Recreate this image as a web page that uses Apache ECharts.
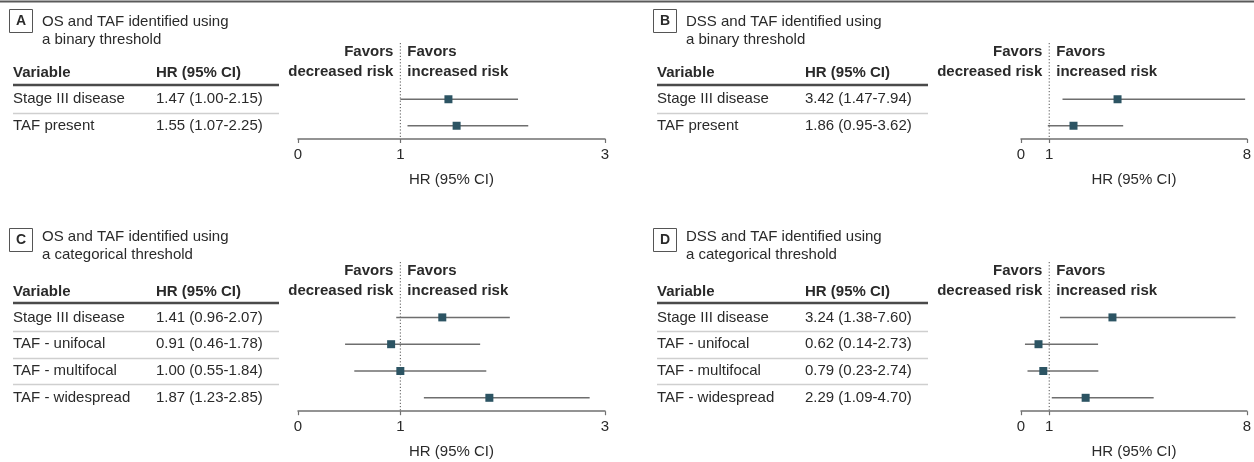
<!DOCTYPE html>
<html><head><meta charset="utf-8">
<script src="https://cdn.jsdelivr.net/npm/echarts@6/dist/echarts.min.js"></script>
<style>html,body{margin:0;padding:0;background:#fff}#c{width:1254px;height:462px}</style>
</head><body><div id="c"></div><script>
// ---- data ----
const panelLetters = ['A', 'B', 'C', 'D'];
const panelTitles = [
  ['OS and TAF identified using', 'a binary threshold'],
  ['DSS and TAF identified using', 'a binary threshold'],
  ['OS and TAF identified using', 'a categorical threshold'],
  ['DSS and TAF identified using', 'a categorical threshold']
];
const varsBinary = ['Stage III disease', 'TAF present'];
const varsCat = ['Stage III disease', 'TAF - unifocal', 'TAF - multifocal', 'TAF - widespread'];
const hrA = [1.47, 1.55], loA = [1.00, 1.07], hiA = [2.15, 2.25];
const hrB = [3.42, 1.86], loB = [1.47, 0.95], hiB = [7.94, 3.62];
const hrC = [1.41, 0.91, 1.00, 1.87], loC = [0.96, 0.46, 0.55, 1.23], hiC = [2.07, 1.78, 1.84, 2.85];
const hrD = [3.24, 0.62, 0.79, 2.29], loD = [1.38, 0.14, 0.23, 1.09], hiD = [7.60, 2.73, 2.74, 4.70];
const ticksOS = [0, 1, 3];
const ticksDSS = [0, 1, 8];
const axisMaxOS = 3, axisMaxDSS = 8;
const headerVar = 'Variable', headerHR = 'HR (95% CI)';
const favorsLeft = ['Favors', 'decreased risk'];
const favorsRight = ['Favors', 'increased risk'];
const axisTitle = 'HR (95% CI)';

// ---- layout ----
const FONT = "'Liberation Sans', Arial, sans-serif";
const TXT = '#2a2a2a';
const cols = [
  {box: 9, title: 42, x0: 13, hrX: 156, tRight: 279, gL: 298, gR: 605},
  {box: 653, title: 686, x0: 657, hrX: 805, tRight: 928, gL: 1021, gR: 1248}
];
const rowsY = [
  {boxY: 9, t1: 22, t2: 40, header: 73, gTop: 86, fav1: 52, fav2: 72, dotTop: 43},
  {boxY: 228, t1: 237, t2: 255, header: 292, gTop: 304, fav1: 271, fav2: 291, dotTop: 262}
];
const rowH = 26.8;

const panels = [
  {vars: varsBinary, hr: hrA, lo: loA, hi: hiA, ticks: ticksOS, max: axisMaxOS, c: 0, r: 0},
  {vars: varsBinary, hr: hrB, lo: loB, hi: hiB, ticks: ticksDSS, max: axisMaxDSS, c: 1, r: 0},
  {vars: varsCat, hr: hrC, lo: loC, hi: hiC, ticks: ticksOS, max: axisMaxOS, c: 0, r: 1},
  {vars: varsCat, hr: hrD, lo: loD, hi: hiD, ticks: ticksDSS, max: axisMaxDSS, c: 1, r: 1}
];

const fmt = v => v.toFixed(2);
const grids = [], xAxes = [], yAxes = [], series = [];
panels.forEach((p, i) => {
  const C = cols[p.c], R = rowsY[p.r];
  const n = p.vars.length;
  grids.push({left: C.gL, width: C.gR - C.gL, top: R.gTop, height: n * rowH - (p.r === 0 ? 0.6 : 0)});
  const hrText = p.vars.map((_, k) => `${fmt(p.hr[k])} (${fmt(p.lo[k])}-${fmt(p.hi[k])})`);
  xAxes.push({
    type: 'value', gridIndex: i, min: 0, max: p.max,
    axisLine: {show: true, lineStyle: {color: '#707070', width: 1.5}},
    axisTick: {show: true, length: 4, customValues: p.ticks, lineStyle: {color: '#707070', width: 1.2}},
    axisLabel: {customValues: p.ticks, fontSize: 15, color: TXT, margin: 8, fontFamily: FONT},
    splitLine: {show: false},
    name: axisTitle, nameLocation: 'middle', nameGap: 33,
    nameTextStyle: {fontSize: 15, color: TXT, fontFamily: FONT}
  });
  yAxes.push({
    type: 'category', gridIndex: i, inverse: true, data: p.vars,
    axisLine: {show: false}, axisTick: {show: false}, splitLine: {show: false},
    axisLabel: {
      align: 'left', margin: C.gL - C.x0, fontFamily: FONT,
      formatter: (val, idx) => `{v|${val}}{h|${hrText[idx]}}`,
      rich: {
        v: {width: C.hrX - C.x0, fontSize: 15, color: TXT, fontFamily: FONT},
        h: {fontSize: 15, color: TXT, fontFamily: FONT}
      }
    }
  });
  series.push({
    type: 'custom', xAxisIndex: i, yAxisIndex: i,
    data: p.vars.map((_, k) => [k, p.lo[k], p.hi[k], p.hr[k]]),
    encode: {x: [1, 2, 3], y: 0},
    renderItem: (params, api) => {
      const y = api.value(0);
      const a = api.coord([api.value(1), y]);
      const b = api.coord([api.value(2), y]);
      const m = api.coord([api.value(3), y]);
      return {type: 'group', children: [
        {type: 'line', shape: {x1: a[0], y1: a[1], x2: b[0], y2: b[1]}, style: {stroke: '#6e6e6e', lineWidth: 1.5}},
        {type: 'rect', shape: {x: m[0] - 4, y: m[1] - 4, width: 8, height: 8}, style: {fill: '#2c5463'}}
      ]};
    }
  });
});

const chart = echarts.init(document.getElementById('c'), null, {renderer: 'canvas'});
chart.setOption({
  animation: false,
  textStyle: {fontFamily: FONT},
  grid: grids, xAxis: xAxes, yAxis: yAxes, series: series
});

// ---- decorations ----
const g = [];
g.push({type: 'line', shape: {x1: 0, y1: 1.5, x2: 1254, y2: 1.5}, style: {stroke: '#5a5a5a', lineWidth: 2}});
panels.forEach((p, i) => {
  const C = cols[p.c], R = rowsY[p.r];
  // letter box
  g.push({type: 'rect', shape: {x: C.box + 0.5, y: R.boxY + 0.5, width: 23, height: 23},
    style: {fill: '#fff', stroke: '#555', lineWidth: 1}});
  g.push({type: 'text', x: C.box + 12, y: R.boxY + 12,
    style: {text: panelLetters[i], font: `bold 14px ${FONT}`, fill: TXT, align: 'center', verticalAlign: 'middle'}});
  g.push({type: 'text', x: C.title, y: R.t1,
    style: {text: panelTitles[i][0], font: `15px ${FONT}`, fill: TXT, verticalAlign: 'middle'}});
  g.push({type: 'text', x: C.title, y: R.t2,
    style: {text: panelTitles[i][1], font: `15px ${FONT}`, fill: TXT, verticalAlign: 'middle'}});
  // headers
  g.push({type: 'text', x: C.x0, y: R.header,
    style: {text: headerVar, font: `bold 15px ${FONT}`, fill: TXT, verticalAlign: 'middle'}});
  g.push({type: 'text', x: C.hrX, y: R.header,
    style: {text: headerHR, font: `bold 15px ${FONT}`, fill: TXT, verticalAlign: 'middle'}});
  // header underline
  const topY = R.gTop - 1;
  g.push({type: 'line', shape: {x1: C.x0, y1: topY, x2: C.tRight, y2: topY}, style: {stroke: '#4a4a4a', lineWidth: 2.5}});
  // separators between rows
  for (let k = 0; k < p.vars.length - 1; k++) {
    const y1 = chart.convertToPixel({yAxisIndex: i}, k);
    const y2 = chart.convertToPixel({yAxisIndex: i}, k + 1);
    const ys = Math.round((y1 + y2) / 2) + 0.5;
    g.push({type: 'line', shape: {x1: C.x0, y1: ys, x2: C.tRight, y2: ys}, style: {stroke: '#cfcfcf', lineWidth: 1.5}});
  }
  // dotted reference line at HR = 1
  const x1 = chart.convertToPixel({xAxisIndex: i}, 1);
  const axisY = chart.convertToPixel({yAxisIndex: i}, p.vars.length - 1) + rowH / 2;
  g.push({type: 'line', shape: {x1: x1, y1: R.dotTop, x2: x1, y2: axisY},
    style: {stroke: '#555', lineWidth: 1, lineDash: [1.2, 2]}});
  // favors labels
  [R.fav1, R.fav2].forEach((yy, k) => {
    g.push({type: 'text', x: x1 - 7, y: yy,
      style: {text: favorsLeft[k], font: `bold 15px ${FONT}`, fill: TXT, align: 'right', verticalAlign: 'middle'}});
    g.push({type: 'text', x: x1 + 7, y: yy,
      style: {text: favorsRight[k], font: `bold 15px ${FONT}`, fill: TXT, align: 'left', verticalAlign: 'middle'}});
  });
});
chart.setOption({graphic: {elements: g}});
</script></body></html>
